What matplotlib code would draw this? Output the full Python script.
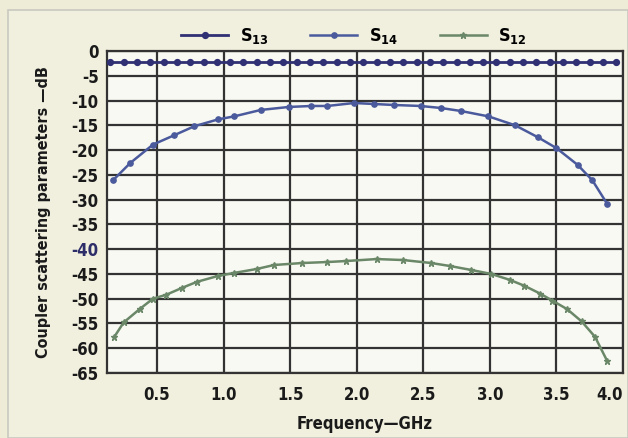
import matplotlib
matplotlib.use("Agg")
import matplotlib.pyplot as plt
from matplotlib import font_manager as fm

names = {f.name for f in fm.fontManager.ttflist}
if 'Liberation Sans Narrow' in names:
    FONT, STRETCH = 'Liberation Sans Narrow', 'normal'
else:
    FONT, STRETCH = 'DejaVu Sans', 'condensed'
plt.rcParams['font.family'] = [FONT, 'DejaVu Sans']
plt.rcParams['font.weight'] = 'bold'
plt.rcParams['font.stretch'] = STRETCH
plt.rcParams['mathtext.default'] = 'regular'
plt.rcParams['axes.unicode_minus'] = False

# ---- data ----
freq_s13 = [0.15, 0.25, 0.35, 0.45, 0.55, 0.65, 0.75, 0.85, 0.95, 1.05,
            1.15, 1.25, 1.35, 1.45, 1.55, 1.65, 1.75, 1.85, 1.95, 2.05,
            2.15, 2.25, 2.35, 2.45, 2.55, 2.65, 2.75, 2.85, 2.95, 3.05,
            3.15, 3.25, 3.35, 3.45, 3.55, 3.65, 3.75, 3.85, 3.95]
s13 = [-2.3, -2.3, -2.3, -2.3, -2.3, -2.3, -2.3, -2.3, -2.3, -2.3,
       -2.3, -2.3, -2.3, -2.3, -2.3, -2.3, -2.3, -2.3, -2.3, -2.3,
       -2.3, -2.3, -2.3, -2.3, -2.3, -2.3, -2.3, -2.3, -2.3, -2.3,
       -2.3, -2.3, -2.3, -2.3, -2.3, -2.3, -2.3, -2.3, -2.3]

freq_s14 = [0.17, 0.30, 0.47, 0.63, 0.78, 0.96, 1.08, 1.28, 1.49, 1.66,
            1.78, 1.98, 2.13, 2.28, 2.48, 2.63, 2.78, 2.99, 3.19, 3.36,
            3.50, 3.66, 3.77, 3.88]
s14 = [-26.1, -22.6, -18.9, -17.0, -15.2, -13.8, -13.2, -11.9, -11.3, -11.1,
       -11.1, -10.5, -10.7, -10.9, -11.1, -11.5, -12.1, -13.2, -15.0, -17.4,
       -19.6, -23.0, -26.1, -30.8]

freq_s12 = [0.18, 0.25, 0.37, 0.47, 0.57, 0.69, 0.80, 0.96, 1.08, 1.25,
            1.38, 1.59, 1.78, 1.92, 2.15, 2.35, 2.56, 2.70, 2.86, 3.01,
            3.15, 3.26, 3.38, 3.47, 3.58, 3.69, 3.79, 3.88]
s12 = [-57.7, -54.8, -52.1, -50.0, -49.2, -47.8, -46.6, -45.4, -44.8, -44.0,
       -43.2, -42.8, -42.6, -42.4, -42.0, -42.2, -42.8, -43.4, -44.2, -45.0,
       -46.2, -47.4, -49.0, -50.4, -52.1, -54.6, -57.7, -62.5]

x_ticks = [0.5, 1.0, 1.5, 2.0, 2.5, 3.0, 3.5, 4.0]
x_labels = ['0.5', '1.0', '1.5', '2.0', '2.5', '3.0', '3.5', '4.0']
y_ticks = [0, -5, -10, -15, -20, -25, -30, -35, -40, -45, -50, -55, -60, -65]

fig = plt.figure(figsize=(6.28, 4.38), dpi=100, facecolor='#eeecd6')
fig.patches.append(plt.Rectangle((0.013, 0.0), 0.987, 0.977, transform=fig.transFigure,
                                 facecolor='#f1f0de', edgecolor='#c9c9c0', lw=1.2, zorder=-1))
ax = fig.add_axes([0.1704, 0.1484, 0.8216, 0.7352])
ax.set_facecolor('#f9f9f3')

ax.plot(freq_s13, s13, color='#303075', lw=2.0, marker='o', ms=4.2, label='S$_{13}$', zorder=3)
ax.plot(freq_s14, s14, color='#4a5a9c', lw=1.8, marker='o', ms=3.8, label='S$_{14}$', zorder=3)
ax.plot(freq_s12, s12, color='#6a8768', lw=1.8, marker='*', ms=4.5, label='S$_{12}$', zorder=3)

ax.set_xlim(0.125, 4.0)
ax.set_ylim(-65, 0)
ax.set_xticks(x_ticks)
ax.set_xticklabels(x_labels)
ax.set_yticks(y_ticks)
ax.grid(True, color='#333333', lw=1.6)
ax.set_axisbelow(True)
for s in ax.spines.values():
    s.set_color('#333333')
    s.set_linewidth(1.6)
ax.tick_params(axis='both', length=0, labelsize=12, colors='#1a1a1a')
ax.tick_params(axis='x', pad=9)
ax.tick_params(axis='y', pad=6)
for lbl in ax.get_yticklabels():
    if lbl.get_text() in ('-40', '−40'):
        lbl.set_color('#2d2d6a')
xl = ax.get_xticklabels()
xl[-1].set_horizontalalignment('right')

ax.set_xlabel('Frequency—GHz', fontsize=12, fontweight='bold', color='#1a1a1a', labelpad=8)
ax.set_ylabel('Coupler scattering parameters —dB', fontsize=11.5, fontweight='bold',
              color='#1a1a1a', labelpad=15)

fig.legend(loc='center', bbox_to_anchor=(0.564, 0.918), ncol=3, frameon=False,
           fontsize=13, handlelength=2.6, columnspacing=2.3, handletextpad=0.65)

fig.savefig('out.png', dpi=100, facecolor=fig.get_facecolor())
